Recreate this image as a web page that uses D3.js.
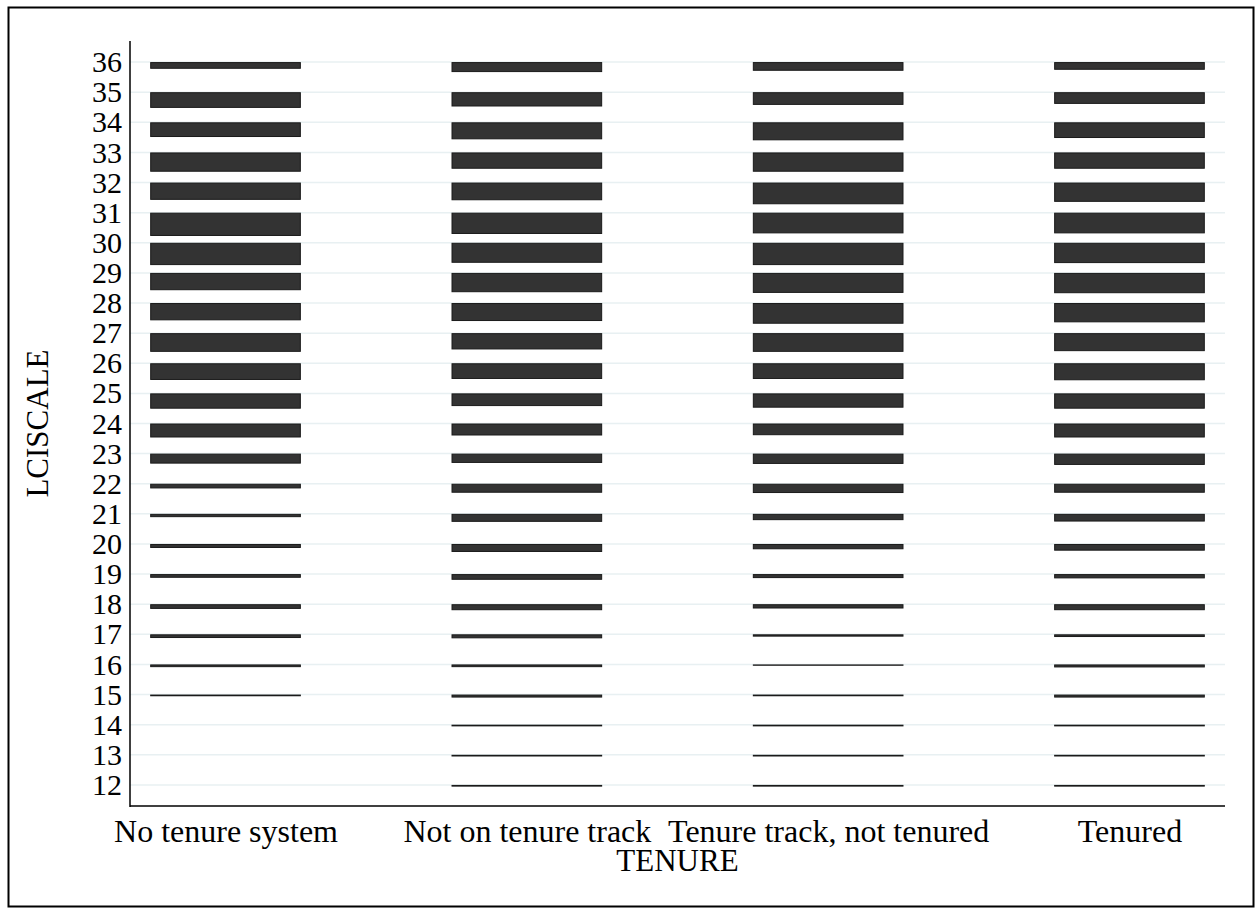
<!DOCTYPE html>
<html>
<head>
<meta charset="utf-8">
<script src="https://cdn.jsdelivr.net/npm/d3@7"></script>
<style>
  html, body { margin: 0; padding: 0; background: #fff; }
  svg { display: block; }
  text { font-family: "Liberation Serif", "Times New Roman", serif; fill: #000; }
</style>
</head>
<body>
<svg id="chart" width="1259" height="914"></svg>
<script>
// ---- data ----
const categories = ["No tenure system", "Not on tenure track", "Tenure track, not tenured", "Tenured"];
const levels = [12,13,14,15,16,17,18,19,20,21,22,23,24,25,26,27,28,29,30,31,32,33,34,35,36];
// relative frequency (bar thickness) per LCISCALE level, from 12 up to 36
const noTenureSystem   = [0,0,0,1.7,2.7,3.7,4.7,3.7,4,3.3,4.7,10,14,15.3,16.7,18.7,17.3,17.3,22.3,23.3,17.3,19.3,14.7,15.7,6.7];
const notOnTenureTrack = [1.7,1.7,1.7,3,2.7,4,6,5.7,8,8,9,9.3,12,12.7,15.7,16.3,18,19.3,20,21.3,17.7,16.3,17,14.3,10];
const tenureTrack      = [1.7,1.7,1.7,1.7,1.3,2.3,4.3,4,5.3,6.3,9.3,10.3,11.7,14.3,15.7,18.7,20.7,20,22.3,20.7,21.7,19.3,18,12.7,8.7];
const tenured          = [1.7,1.7,1.7,3,3,2.7,6,4.3,6.7,7.7,9,11.3,14,15.3,17,18,19.3,20.3,20.3,20.7,19.3,16.3,15.7,11.7,7.7];
const seriesValues = [noTenureSystem, notOnTenureTrack, tenureTrack, tenured];
const xTitle = "TENURE";
const yTitle = "LCISCALE";

// ---- layout ----
const svg = d3.select("#chart");
const mLeft = 130, mRight = 1225, mTop = 41, mBottom = 806;

svg.append("rect").attr("x", 8.5).attr("y", 7.5).attr("width", 1245).attr("height", 899)
  .attr("fill", "none").attr("stroke", "#000").attr("stroke-width", 2);

const x = d3.scalePoint().domain(categories).range([mLeft, mRight]).padding(0.317);
const y = d3.scaleLinear().domain([11.3, 36.7]).range([mBottom, mTop]);
const thick = d3.scaleLinear().domain([0, 25]).range([0, 25]);
const barW = x.step() * 0.5;

// gridlines
svg.append("g").selectAll("line").data(levels).join("line")
  .attr("x1", mLeft).attr("x2", mRight)
  .attr("y1", d => y(d)).attr("y2", d => y(d))
  .attr("stroke", "#e8f0f2").attr("stroke-width", 1.5);

// bars
const cells = [];
categories.forEach((c, i) => {
  levels.forEach((lv, j) => {
    const v = seriesValues[i][j];
    if (v > 0) cells.push({ c, lv, v });
  });
});
svg.append("g").selectAll("rect").data(cells).join("rect")
  .attr("x", d => x(d.c) - barW / 2 + 0.5)
  .attr("width", barW - 1)
  .attr("y", d => y(d.lv) + 0.5)
  .attr("height", d => Math.max(thick(d.v) - 1, 0.2))
  .attr("fill", "#333333")
  .attr("stroke", "#1a1a1a")
  .attr("stroke-width", 1);

// axes lines
svg.append("line").attr("x1", mLeft).attr("x2", mLeft).attr("y1", mTop).attr("y2", mBottom + 1)
  .attr("stroke", "#000").attr("stroke-width", 1.5);
svg.append("line").attr("x1", mLeft).attr("x2", mRight).attr("y1", mBottom).attr("y2", mBottom)
  .attr("stroke", "#000").attr("stroke-width", 1.5);

// y tick labels
const yAxis = d3.axisLeft(y).tickValues(levels).tickSize(0).tickPadding(8);
const gy = svg.append("g").attr("transform", `translate(${mLeft},0)`).call(yAxis);
gy.select(".domain").remove();
gy.selectAll("text").attr("font-size", 30).attr("font-family", "Liberation Serif").attr("fill", "#000");

// x tick labels
const xAxis = d3.axisBottom(x).tickSize(0).tickPadding(13);
const gx = svg.append("g").attr("transform", `translate(0,${mBottom})`).call(xAxis);
gx.select(".domain").remove();
gx.selectAll("text").attr("font-size", 32).attr("font-family", "Liberation Serif").attr("fill", "#000");

// titles
svg.append("text").attr("x", (mLeft + mRight) / 2).attr("y", 871)
  .attr("text-anchor", "middle").attr("font-size", 31).text(xTitle);
svg.append("text").attr("transform", `translate(48,${(mTop + mBottom) / 2}) rotate(-90)`)
  .attr("text-anchor", "middle").attr("font-size", 31).text(yTitle);
</script>
</body>
</html>
